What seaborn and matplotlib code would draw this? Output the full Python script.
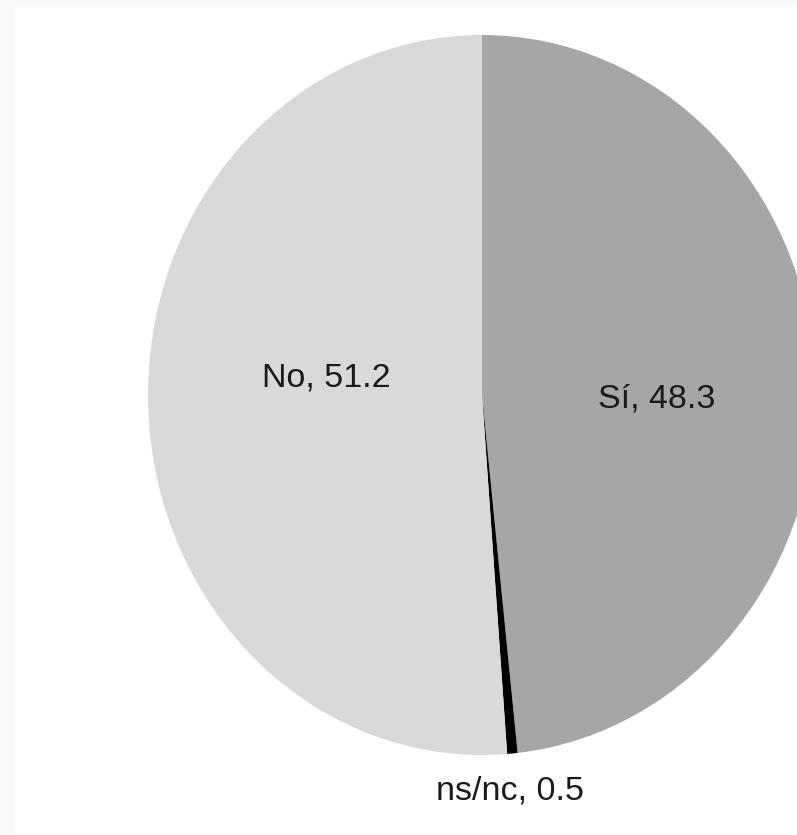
import matplotlib
matplotlib.use("Agg")
import matplotlib.pyplot as plt
import seaborn as sns
from matplotlib.patches import Rectangle

# Data
categories = ["Sí", "ns/nc", "No"]
values = [48.3, 0.5, 51.2]
colors = ["#a6a6a6", "#000000", "#d9d9d9"]
label_texts = [f"{c}, {v}" for c, v in zip(categories, values)]

sns.set_theme(style="white")
plt.rcParams["font.family"] = ["Liberation Sans", "DejaVu Sans"]

W, H = 797, 835
fig = plt.figure(figsize=(W / 100, H / 100), dpi=100)
fig.patch.set_facecolor("white")

# faint frame strips (left & top)
fig.patches.append(Rectangle((0, 0), 14 / W, 1, transform=fig.transFigure,
                             facecolor="#f8f9f9", edgecolor="none", zorder=0))
fig.patches.append(Rectangle((0, 1 - 7 / H), 1, 7 / H, transform=fig.transFigure,
                             facecolor="#f8f9f9", edgecolor="none", zorder=0))

ax = fig.add_axes([0, 0, 1, 1])
ax.set_facecolor("none")

wedges, texts = ax.pie(values, labels=label_texts, colors=colors, startangle=90,
                       counterclock=False, labeldistance=0.6,
                       wedgeprops=dict(linewidth=0, edgecolor="none", antialiased=True),
                       textprops=dict(fontsize=24.5, color="#1a1a1a"))

# pixel geometry: centre (482, 395), rx 334, ry 360
cx, cy, rx, ry = 482, 395, 334, 360
ax.set_aspect("auto")
ax.set_xlim(-cx / rx, (W - cx) / rx)
ax.set_ylim(-(H - cy) / ry, cy / ry)

label_xy = [(0.524, -0.012), (0.085, -1.10), (-0.467, 0.048)]
for t, (x, y) in zip(texts, label_xy):
    t.set_position((x, y))
    t.set_ha("center")
    t.set_va("center")

ax.axis("off")
fig.savefig("out.png", dpi=100)
